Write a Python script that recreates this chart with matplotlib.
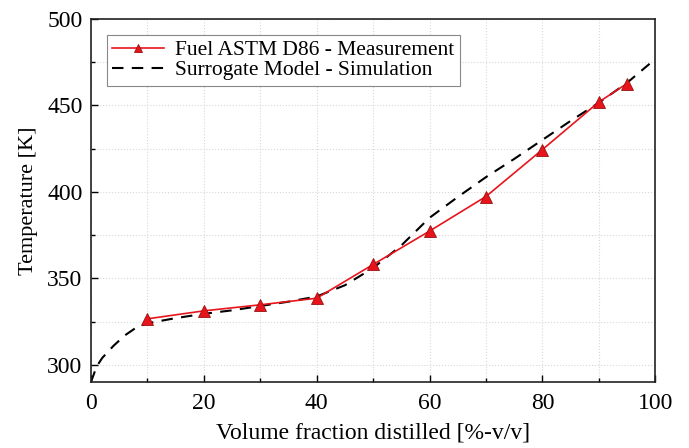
import matplotlib
matplotlib.use('Agg')
import matplotlib.pyplot as plt
from matplotlib.ticker import MultipleLocator

# measured ASTM D86 points
meas_x = [10, 20, 30, 40, 50, 60, 70, 80, 90, 95]
meas_t = [326.6, 331.2, 334.7, 338.5, 358.0, 377.3, 397.3, 424.4, 451.9, 462.6]

# surrogate model simulation curve
sim_x = [0, 1, 2, 4, 6, 8, 10, 15, 20, 25, 30, 35, 40, 45, 50, 55, 60, 65, 70, 75, 80, 85, 90, 95, 99]
sim_t = [290, 299, 304, 311, 317, 321.5, 324, 327, 329.5, 331.5, 334, 336.5, 339.5, 346, 356,
         369, 385, 397, 408.5, 419, 430, 441, 451.5, 463, 474]

plt.rcParams['font.family'] = ['Liberation Serif', 'DejaVu Serif']

fig = plt.figure(figsize=(6.89, 4.48), dpi=100)
ax = fig.add_axes([0.132, 0.147, 0.819, 0.811])

ax.plot(meas_x, meas_t, color='#e8141c', linewidth=1.2, marker='^', markersize=8,
        markerfacecolor='#e8141c', markeredgecolor='#9a1010', markeredgewidth=0.6,
        label='Fuel ASTM D86 - Measurement', zorder=3)
ax.plot(sim_x, sim_t, color='black', linewidth=1.5, linestyle=(0, (5.5, 4)),
        label='Surrogate Model - Simulation', zorder=2)

ax.set_xlim(0, 100)
ax.set_ylim(290, 500)
ax.xaxis.set_major_locator(MultipleLocator(20))
ax.xaxis.set_minor_locator(MultipleLocator(10))
ax.yaxis.set_major_locator(MultipleLocator(50))
ax.yaxis.set_minor_locator(MultipleLocator(25))
ax.tick_params(which='major', direction='in', length=5, width=1, labelsize=17)
ax.tick_params(axis='x', which='major', pad=8)
ax.tick_params(axis='y', which='major', pad=6)
ax.tick_params(which='minor', direction='in', length=3, width=1)
ax.grid(True, which='both', color='#d8d8d8', linestyle=':', linewidth=0.8)
ax.set_axisbelow(True)
for s in ax.spines.values():
    s.set_linewidth(1.2)
    s.set_color('#222222')

ax.set_xlabel('Volume fraction distilled [%-v/v]', fontsize=17, labelpad=6)
ax.set_ylabel('Temperature [K]', fontsize=16, labelpad=7)

leg = ax.legend(loc='upper left', fontsize=15.5, fancybox=False, framealpha=1,
                edgecolor='#888888', handlelength=2.4, borderpad=0.25,
                labelspacing=0.0, borderaxespad=0.75, handletextpad=0.5,
                markerscale=0.75)
leg.get_frame().set_linewidth(0.8)

fig.savefig('out.png', dpi=100)
